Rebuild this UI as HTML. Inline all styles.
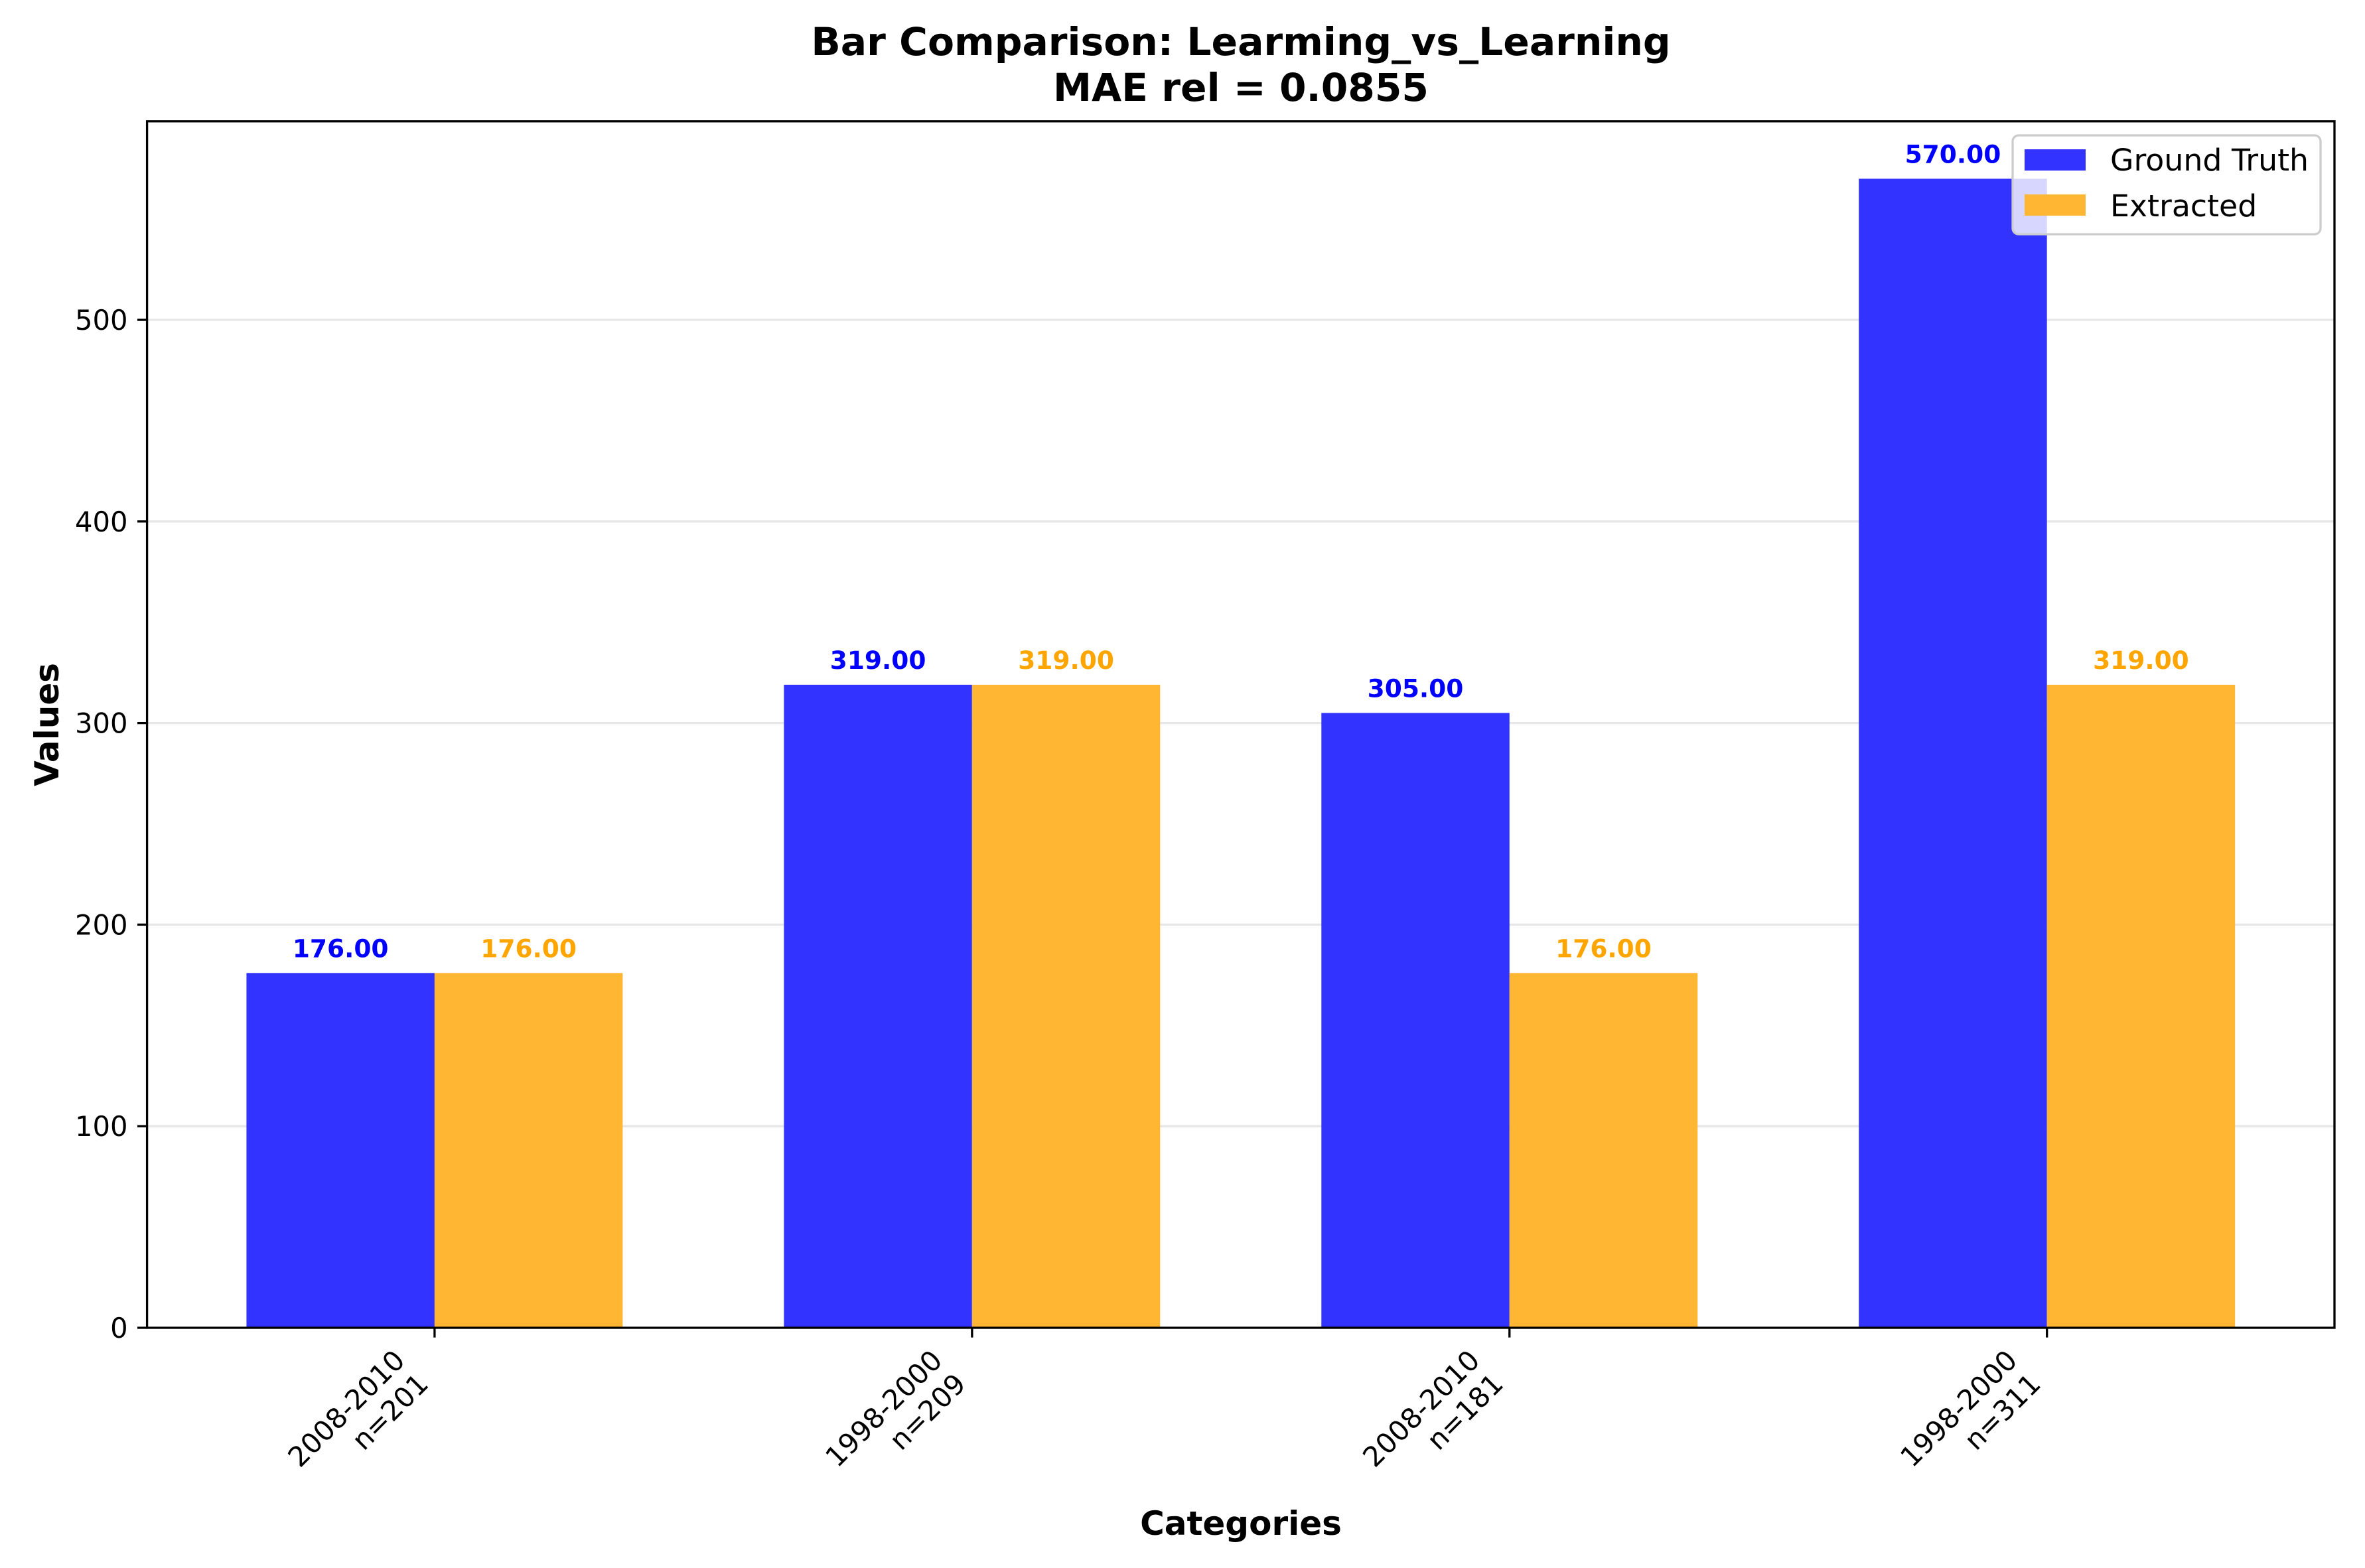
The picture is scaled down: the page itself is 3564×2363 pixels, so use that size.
<!DOCTYPE html>
<html><head><meta charset="utf-8">
<style>
html,body{margin:0;padding:0;background:#fff;}
svg{display:block;font-family:"DejaVu Sans","Liberation Sans",sans-serif;}
</style></head>
<body>
<svg id="chart" width="3564" height="2363" viewBox="0 0 3564 2363" xmlns="http://www.w3.org/2000/svg">
  <rect x="0" y="0" width="3564" height="2363" fill="#fff"/>
  <text x="1870" y="83" text-anchor="middle" font-size="58.3" font-weight="bold">Bar Comparison: Learming_vs_Learning</text>
  <text x="1870" y="152" text-anchor="middle" font-size="58.3" font-weight="bold">MAE rel = 0.0855</text>
  <g id="grid"></g>
  <g id="bars"></g>
  <g id="labels"></g>
  <g id="axes"></g>
  <text x="1870" y="2313" text-anchor="middle" font-size="50" font-weight="bold">Categories</text>
  <text transform="translate(88,1092) rotate(-90)" text-anchor="middle" font-size="50" font-weight="bold">Values</text>
  <g>
    <rect x="3033" y="204" width="464" height="149" rx="9" fill="#fff" fill-opacity="0.8" stroke="#cccccc" stroke-width="3.3"/>
    <rect x="3051" y="225" width="92" height="32" fill="#3333ff"/>
    <text x="3180" y="257" font-size="45.8">Ground Truth</text>
    <rect x="3051" y="293" width="92" height="32" fill="#ffb733"/>
    <text x="3180" y="326" font-size="45.8">Extracted</text>
  </g>
</svg>
<script>
const categories = ["2008-2010|n=201", "1998-2000|n=209", "2008-2010|n=181", "1998-2000|n=311"];
const groundTruth = [176, 319, 305, 570];
const extracted = [176, 319, 176, 319];
const yTicks = [0, 100, 200, 300, 400, 500];

const NS = "http://www.w3.org/2000/svg";
const L = 221.6, R = 3518, T = 182.8, B = 2001;
const barW = 0.35;
const n = categories.length;
const xMin = -barW - (n - 1 + 2 * barW) * 0.05;
const xMax = (n - 1) + barW + (n - 1 + 2 * barW) * 0.05;
const allVals = groundTruth.concat(extracted);
const yMax = Math.max.apply(null, allVals) * 1.05;
function xs(v) { return L + (v - xMin) / (xMax - xMin) * (R - L); }
function ys(v) { return B - v / yMax * (B - T); }
function mk(tag, attrs, parent) {
  const e = document.createElementNS(NS, tag);
  for (const k in attrs) e.setAttribute(k, attrs[k]);
  parent.appendChild(e);
  return e;
}
const grid = document.getElementById('grid');
const bars = document.getElementById('bars');
const labels = document.getElementById('labels');
const axes = document.getElementById('axes');

yTicks.forEach(function (t) {
  const y = ys(t);
  const g = mk('line', { x1: L, x2: R, y1: y, y2: y, stroke: '#b0b0b0', 'stroke-opacity': 0.3, 'stroke-width': 3.3 }, grid);
  
  
  const tk = mk('line', { x1: L - 14.6, x2: L, y1: y, y2: y, stroke: '#000', 'stroke-width': 3.3 }, axes);
  
  
  const tl = mk('text', { x: L - 29, y: y + 15, 'text-anchor': 'end', 'font-size': 41.7 }, axes);
  tl.textContent = String(t);
  
  
});

function drawSeries(vals, offset, color, textColor, key) {
  vals.forEach(function (v, i) {
    const x0 = xs(i + offset - barW / 2), x1 = xs(i + offset + barW / 2);
    const r = mk('rect', { x: x0, y: ys(v), width: x1 - x0, height: ys(0) - ys(v), fill: color }, bars);
    
    
    const t = mk('text', { x: (x0 + x1) / 2, y: ys(v) - 24, 'text-anchor': 'middle', 'font-size': 37.5, 'font-weight': 'bold', fill: textColor }, labels);
    t.textContent = v.toFixed(2);
    
    
  });
}
drawSeries(groundTruth, -barW / 2, '#3333ff', '#0000ff', 'ground-truth');
drawSeries(extracted, barW / 2, '#ffb733', '#ffa500', 'extracted');

categories.forEach(function (c, i) {
  const x = xs(i);
  const tk = mk('line', { x1: x, x2: x, y1: B, y2: B + 14.6, stroke: '#000', 'stroke-width': 3.3 }, axes);
  
  
  const parts = c.split('|');
  const g = mk('g', { transform: 'translate(' + (x - 42.4) + ',' + (B + 29 + 22.6) + ') rotate(-45)' }, axes);
  
  
  parts.forEach(function (p, j) {
    const t = mk('text', { x: 0, y: j * 50, 'text-anchor': 'end', 'font-size': 41.7 }, g);
    t.textContent = p;
    
    
  });
});

const frame = mk('rect', { x: L, y: T, width: R - L, height: B - T, fill: 'none', stroke: '#000', 'stroke-width': 3.3 }, axes);


</script>
</body></html>
